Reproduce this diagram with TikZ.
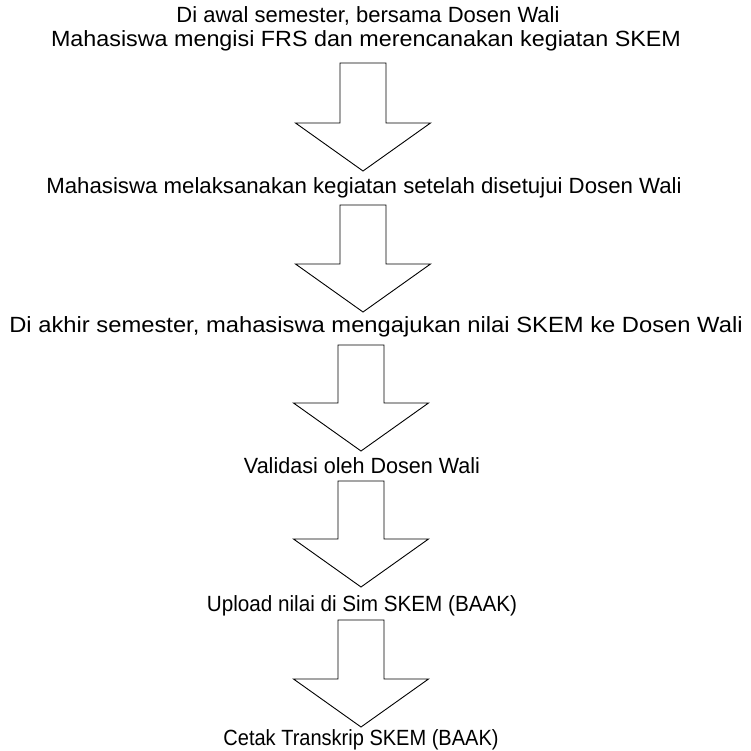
\documentclass[tikz,border=0pt]{standalone}
\usepackage{graphicx}
\usepackage{fontspec}
\setmainfont{Liberation Sans}
\usetikzlibrary{calc}

% text squeezed or stretched sideways, as the steps are printed
\newcommand{\widthto}[2]{\scalebox{#1}[1]{#2}}

\begin{document}
\begin{tikzpicture}[
    x=1pt, y=-1pt,
    font=\fontsize{22}{22}\selectfont,
    steptext/.style={
        inner sep=0pt, anchor=base, align=center
    },
    blockarrow/.style={
        draw=black, line width=0.9pt, fill=white, line join=miter,
        to path={
            ($(\tikztostart)+(-23,0)$) -- ($(\tikztostart)+(23,0)$)
            -- ($(\tikztotarget)+(23,-48)$) -- ($(\tikztotarget)+(67.5,-48)$)
            -- (\tikztotarget)
            -- ($(\tikztotarget)+(-67.5,-48)$) -- ($(\tikztotarget)+(-23,-48)$)
            -- cycle
        }
    }
]
\useasboundingbox (0,0) rectangle (751,751);

% ---------------- Steps ----------------
\node[steptext] (awal) at (368,23) {Di awal semester, bersama Dosen Wali};
\node[steptext] (frs) at (366,47) {\widthto{1.06}{Mahasiswa mengisi FRS dan merencanakan kegiatan SKEM}};
\node[steptext] (laksana) at (364,194) {\widthto{1.01}{Mahasiswa melaksanakan kegiatan setelah disetujui Dosen Wali}};
\node[steptext] (akhir) at (376,332.5) {\widthto{1.08}{Di akhir semester, mahasiswa mengajukan nilai SKEM ke Dosen Wali}};
\node[steptext] (validasi) at (362,473) {\widthto{0.98}{Validasi oleh Dosen Wali}};
\node[steptext] (upload) at (362,611) {\widthto{0.94}{Upload nilai di Sim SKEM (BAAK)}};
\node[steptext] (cetak) at (361,745) {\widthto{0.91}{Cetak Transkrip SKEM (BAAK)}};

% ---------------- Arrow ends ----------------
\coordinate (top1) at (363,63);  \coordinate (tip1) at (363,171);
\coordinate (top2) at (363,205); \coordinate (tip2) at (363,312);
\coordinate (top3) at (361,345); \coordinate (tip3) at (361,451);
\coordinate (top4) at (361,481); \coordinate (tip4) at (361,587);
\coordinate (top5) at (361,620); \coordinate (tip5) at (361,727);

% ---------------- Arrows ----------------
\draw[blockarrow] (top1) to (tip1);
\draw[blockarrow] (top2) to (tip2);
\draw[blockarrow] (top3) to (tip3);
\draw[blockarrow] (top4) to (tip4);
\draw[blockarrow] (top5) to (tip5);

\end{tikzpicture}
\end{document}
